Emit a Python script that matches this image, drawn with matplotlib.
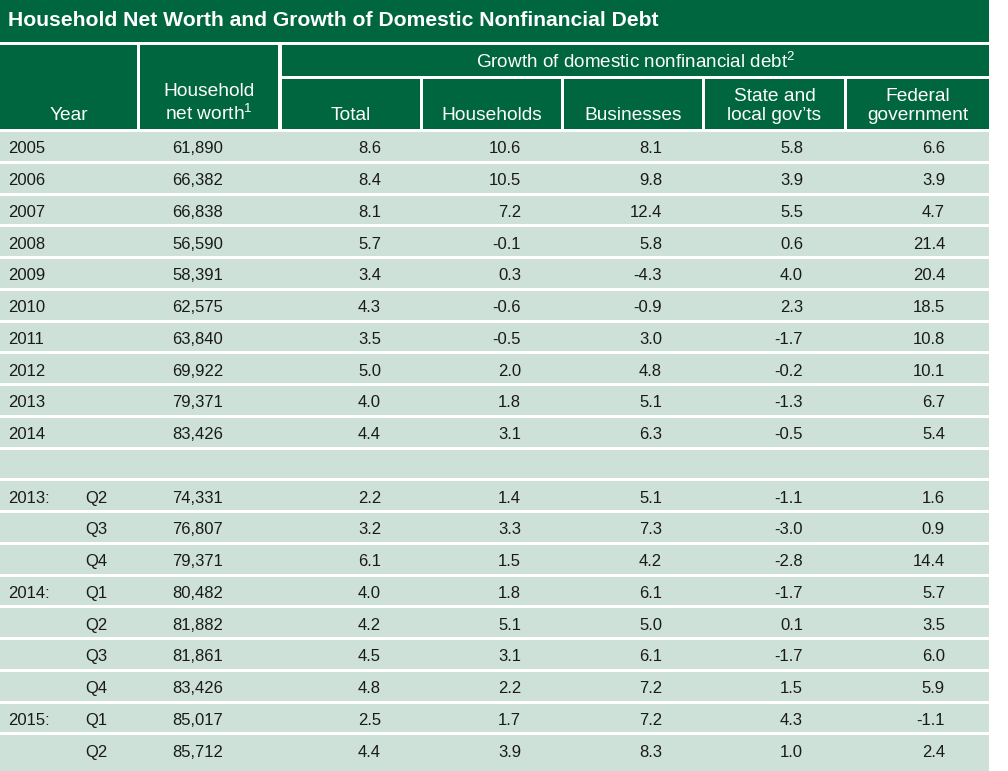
import matplotlib.pyplot as plt
from matplotlib.patches import Rectangle

plt.rcParams['font.family'] = ['Liberation Sans', 'DejaVu Sans']
plt.rcParams['mathtext.fontset'] = 'custom'
plt.rcParams['mathtext.rm'] = 'Liberation Sans'

# Table data
title = 'Household Net Worth and Growth of Domestic Nonfinancial Debt'
group_header = r'Growth of domestic nonfinancial debt$^{\mathregular{2}}$'
col_headers = ['Year', 'Household\nnet worth$^{\\mathregular{1}}$', 'Total', 'Households',
               'Businesses', 'State and\nlocal gov\u2019ts', 'Federal\ngovernment']

years = ['2005', '2006', '2007', '2008', '2009', '2010', '2011', '2012', '2013', '2014', '',
         '2013:', '', '', '2014:', '', '', '', '2015:', '']
quarters = [''] * 11 + ['Q2', 'Q3', 'Q4', 'Q1', 'Q2', 'Q3', 'Q4', 'Q1', 'Q2']
net_worth = [61890, 66382, 66838, 56590, 58391, 62575, 63840, 69922, 79371, 83426, None,
             74331, 76807, 79371, 80482, 81882, 81861, 83426, 85017, 85712]
total = [8.6, 8.4, 8.1, 5.7, 3.4, 4.3, 3.5, 5.0, 4.0, 4.4, None,
         2.2, 3.2, 6.1, 4.0, 4.2, 4.5, 4.8, 2.5, 4.4]
households = [10.6, 10.5, 7.2, -0.1, 0.3, -0.6, -0.5, 2.0, 1.8, 3.1, None,
              1.4, 3.3, 1.5, 1.8, 5.1, 3.1, 2.2, 1.7, 3.9]
businesses = [8.1, 9.8, 12.4, 5.8, -4.3, -0.9, 3.0, 4.8, 5.1, 6.3, None,
              5.1, 7.3, 4.2, 6.1, 5.0, 6.1, 7.2, 7.2, 8.3]
state_local = [5.8, 3.9, 5.5, 0.6, 4.0, 2.3, -1.7, -0.2, -1.3, -0.5, None,
               -1.1, -3.0, -2.8, -1.7, 0.1, -1.7, 1.5, 4.3, 1.0]
federal = [6.6, 3.9, 4.7, 21.4, 20.4, 18.5, 10.8, 10.1, 6.7, 5.4, None,
           1.6, 0.9, 14.4, 5.7, 3.5, 6.0, 5.9, -1.1, 2.4]

dark = '#006640'
light = '#cde1d8'
txt = '#1a1a1a'

# column edges (pixels)
col_left = [0, 140, 282, 423, 564, 705, 847]
col_right = [137, 278, 420, 561, 702, 844, 989]
num_right = [None, 223, 381, 521, 662, 803, 945]

fig = plt.figure(figsize=(10.08, 7.71), dpi=100)
ax = fig.add_axes([0, 0, 1, 1])
ax.set_xlim(0, 1008)
ax.set_ylim(771, 0)
ax.axis('off')

# title bar
ax.add_patch(Rectangle((0, 0), 989, 42, color=dark, lw=0))
ax.text(8, 21, title, color='white', fontsize=15.2, fontweight='bold', va='center', ha='left')

# group header
ax.add_patch(Rectangle((282, 45), 989 - 282, 31, color=dark, lw=0))
ax.text((282 + 989) / 2, 62, group_header, color='white', fontsize=13.6, ha='center', va='center')

# column headers
for i, h in enumerate(col_headers):
    top = 45 if i < 2 else 79
    ax.add_patch(Rectangle((col_left[i], top), col_right[i] - col_left[i], 129 - top, color=dark, lw=0))
    ax.text((col_left[i] + col_right[i]) / 2, 124.5, h, color='white', fontsize=13.8,
            ha='center', va='bottom', linespacing=1.2, multialignment='center')

# data rows
row_top = 132
pitch = 31.75
cols = [total, households, businesses, state_local, federal]
for r in range(len(years)):
    y0 = row_top + r * pitch
    h = pitch - 3 if r < len(years) - 1 else 771 - y0
    ax.add_patch(Rectangle((0, y0), 989, h, color=light, lw=0))
    yc = y0 + (pitch - 3) / 2 + 2.5
    ax.text(8, yc, years[r], color=txt, fontsize=12, ha='left', va='center')
    ax.text(85, yc, quarters[r], color=txt, fontsize=12, ha='left', va='center')
    if net_worth[r] is not None:
        ax.text(num_right[1], yc, f'{net_worth[r]:,}', color=txt, fontsize=12, ha='right', va='center')
    for j, series in enumerate(cols):
        v = series[r]
        if v is not None:
            ax.text(num_right[j + 2], yc, f'{v:.1f}', color=txt, fontsize=12, ha='right', va='center')

fig.savefig('out.png', dpi=100)
